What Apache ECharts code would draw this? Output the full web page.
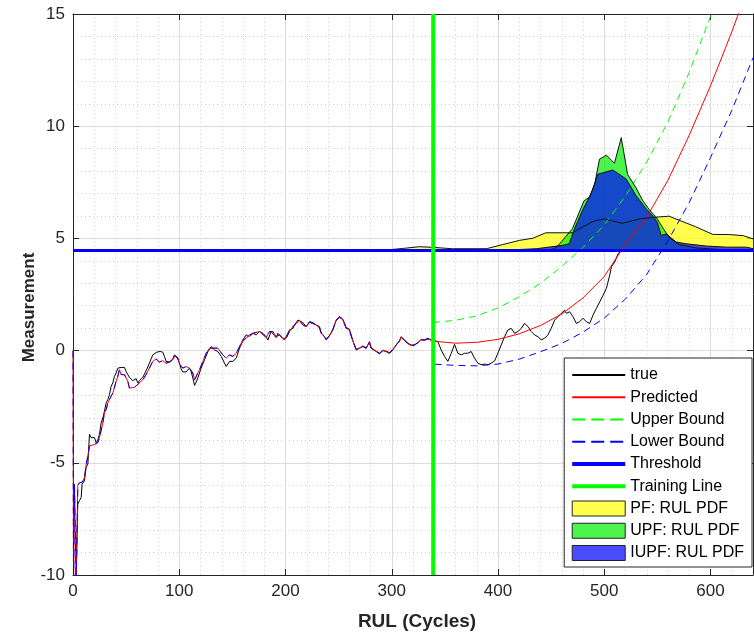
<!DOCTYPE html>
<html>
<head>
<meta charset="utf-8">
<script src="https://cdn.jsdelivr.net/npm/echarts@6/dist/echarts.min.js"></script>
<style>html,body{margin:0;padding:0;background:#fff}#c{width:754px;height:636px}</style>
</head>
<body>
<div id="c"></div>
<script>
// ---- data ----
const xTicks = [0, 100, 200, 300, 400, 500, 600];
const yTicks = [-10, -5, 0, 5, 10, 15];
const thresholdValue = 4.46;
const trainingCycle = 339;

const trueData = [[2.5,-11],[3,-9.9],[4.5,-6.84],[6.1,-6.69],[7.7,-6.54],[8.6,-5.95],[10.8,-5.8],[12.4,-5.2],[14,-5.05],[15.5,-3.73],[17.1,-3.88],[18.7,-3.96],[20.2,-3.88],[21.8,-4.1],[23.4,-3.96],[24.9,-3.73],[26.5,-3.22],[28.1,-3.0],[29.6,-2.7],[31.2,-2.33],[32.8,-2.18],[34.3,-1.96],[35.9,-1.59],[37.5,-1.44],[39,-1.15],[40.6,-1.0],[42.2,-0.78],[43.7,-0.85],[45.3,-0.75],[46.9,-0.71],[48.4,-0.75],[50,-0.93],[51.6,-1.07],[53.1,-1.19],[54.7,-1.25],[56.3,-1.34],[57.8,-1.34],[59.4,-1.25],[61,-1.44],[62.5,-1.34],[64.1,-1.3],[65.7,-1.19],[67.2,-1.05],[68.8,-0.9],[70.4,-0.93],[71.9,-0.56],[73.5,-0.37],[75.1,-0.19],[76.6,-0.12],[78.9,-0.07],[82,-0.04],[84.5,-0.07],[86.1,-0.26],[87.6,-0.48],[89.2,-0.56],[90.8,-0.51],[92.3,-0.48],[93.9,-0.37],[95.5,-0.19],[97,-0.26],[98.6,-0.37],[100.2,-0.55],[101.7,-0.8],[103.3,-0.95],[104.9,-1.0],[106.4,-0.95],[108.1,-1.0],[109.6,-0.78],[111,-0.9],[112.8,-1.22],[114.4,-1.55],[115.5,-1.45],[117.5,-1.22],[120.6,-0.78],[123.8,-0.41],[127,-0.04],[130,0.18],[133.2,0.03],[136.3,-0.04],[139.5,-0.26],[142.6,-0.56],[144.2,-0.71],[147.3,-0.48],[150.4,-0.48],[153.6,-0.34],[156.7,0.11],[159.9,0.43],[163,0.55],[166.1,0.7],[169.3,0.77],[172.4,0.7],[175.5,0.85],[178.7,0.77],[181.8,0.62],[183.4,0.47],[186.5,0.85],[189.6,0.67],[191.2,0.58],[192.8,0.77],[195.9,0.62],[199,0.47],[200.6,0.62],[203.8,0.92],[206.9,0.99],[208.5,1.14],[211.6,1.36],[213.2,1.44],[216.3,1.25],[219.5,1.07],[222.6,1.29],[225.7,1.25],[228.9,1.14],[232,1.07],[233.6,0.77],[236.7,0.62],[238.3,0.48],[241.4,0.66],[244.6,0.92],[246.1,1.14],[247.7,1.36],[250.8,1.52],[254,1.4],[257.1,1.03],[260.2,0.95],[263.4,0.44],[266.5,0.03],[269.6,0.1],[272.8,0.18],[275.9,0.1],[279,0.4],[280.6,0.1],[282.2,0.18],[285.3,-0.04],[288.5,-0.15],[291.6,0.0],[294.7,-0.04],[297.9,-0.12],[301,0.03],[304.1,0.25],[307.3,0.44],[308.8,0.62],[312,0.48],[315.1,0.33],[318.3,0.25],[321.4,0.25],[324.5,0.35],[327.7,0.5],[330.8,0.48],[334,0.55],[337.1,0.48],[340.2,0.45],[343.4,0.4],[346.5,0.03],[349.7,-0.26],[352.8,-0.48],[356,-0.12],[359.1,0.28],[362.2,-0.12],[365.4,-0.19],[368.5,-0.12],[371.6,-0.12],[374.8,-0.04],[377.9,-0.34],[381.1,-0.56],[384.2,-0.63],[387.3,-0.6],[390.5,-0.63],[393.6,-0.56],[396.8,-0.46],[399.9,-0.12],[403,0.25],[406.2,0.62],[409.3,0.92],[412.5,0.99],[415.6,0.77],[418.7,0.85],[421.9,0.99],[425,1.21],[428.2,1.07],[431.3,0.85],[434.4,0.7],[437.6,0.62],[440.7,0.48],[443.9,0.55],[447,0.7],[450.1,0.99],[453.3,1.36],[456.4,1.51],[459.5,1.66],[462.7,1.8],[464.3,1.66],[467.4,1.73],[470.6,1.51],[473.7,1.21],[476.9,1.29],[480,1.44],[483.1,1.29],[486.3,1.21],[489.4,1.58],[492.6,1.88],[495.7,2.17],[498.9,2.47],[502,2.77],[505.1,3.35],[506.7,3.73],[509.9,3.95],[513,4.32],[516.2,4.46]];

const estimateHistory = [[0,0],[0.5,-11],[1.4,-5.95],[3,-10.5],[4.5,-6.0],[6,-5.9],[9,-5.85],[10.8,-5.65],[12.4,-5.07],[14,-4.69],[15.5,-4.25],[17.1,-4.18],[20.2,-4.18],[23.4,-4.1],[24.9,-3.88],[28.1,-3.22],[29.6,-2.77],[31.2,-2.63],[32.8,-2.33],[34.3,-2.18],[37.5,-1.89],[40.6,-1.37],[42.2,-1.15],[43.7,-0.85],[45.3,-1.07],[46.9,-1.15],[48.4,-1.07],[50,-1.15],[51.6,-1.37],[53.1,-1.67],[54.7,-1.67],[57.8,-1.64],[59.4,-1.59],[62.5,-1.44],[65.7,-1.3],[68.8,-1.07],[71.9,-0.78],[75.1,-0.48],[78.2,-0.37],[81.3,-0.51],[84.5,-0.45],[87.6,-0.56],[90.8,-0.51],[93.9,-0.41],[96.4,-0.22],[98.6,-0.33],[100.2,-0.6],[103.4,-0.78],[106.5,-0.71],[109.6,-0.78],[112.8,-1.0],[114.4,-1.3],[115.9,-1.22],[119.1,-0.85],[122.2,-0.48],[125.4,-0.12],[128.5,0.11],[130.1,0.18],[133.2,0.11],[136.3,0.11],[137.9,0.03],[141,-0.19],[144.2,-0.34],[147.3,-0.19],[150.4,-0.26],[153.6,-0.12],[156.7,0.18],[159.9,0.48],[163,0.7],[166.1,0.62],[169.3,0.77],[175.5,0.85],[178.7,0.73],[181.8,0.58],[184.9,0.85],[188.1,0.85],[191.2,0.62],[194.3,0.7],[197.5,0.55],[200.6,0.55],[203.8,0.85],[206.9,1.07],[210,1.21],[213.2,1.36],[216.3,1.14],[219.5,1.07],[222.6,1.26],[225.7,1.21],[228.9,1.14],[232,1.0],[233.6,0.8],[236.7,0.6],[238.3,0.5],[241.4,0.68],[244.6,0.95],[247.7,1.33],[250.8,1.5],[254,1.36],[257.1,1.0],[260.2,0.9],[263.4,0.42],[266.5,0.06],[269.6,0.12],[272.8,0.2],[275.9,0.12],[279,0.36],[280.6,0.12],[285.3,-0.02],[288.5,-0.12],[291.6,0.02],[294.7,-0.02],[297.9,-0.1],[301,0.05],[304.1,0.25],[307.3,0.42],[308.8,0.58],[312,0.46],[315.1,0.3],[318.3,0.22],[321.4,0.25],[324.5,0.35],[327.7,0.48],[330.8,0.46],[334,0.52],[337.1,0.46],[339,0.42]];

const predictedForecast = [[339,0.37],[360,0.33],[380,0.37],[400,0.5],[420,0.75],[440,1.12],[460,1.63],[480,2.35],[500,3.3],[520,4.75],[540,5.95],[560,7.6],[580,9.6],[600,11.8],[620,14.2],[630,15.5]];
const upperForecast = [[339,1.25],[360,1.35],[380,1.55],[400,1.9],[420,2.4],[440,3.0],[460,3.75],[480,4.6],[500,5.6],[520,6.9],[540,8.4],[560,10.2],[580,12.4],[600,14.9],[605,15.5]];
const lowerForecast = [[339,-0.6],[360,-0.66],[380,-0.68],[400,-0.6],[420,-0.38],[440,-0.05],[460,0.32],[480,0.82],[500,1.45],[520,2.3],[540,3.4],[560,4.9],[580,6.6],[600,8.6],[620,10.7],[640,13.05]];

const pfPdf = [[290,4.46],[310,4.55],[326,4.63],[339,4.6],[357,4.54],[389,4.54],[404,4.72],[420,4.91],[433,5.01],[445,5.25],[470,5.25],[489,5.75],[500,5.87],[517,5.67],[533,5.87],[547,5.94],[561,5.99],[571,5.8],[586,5.52],[602,5.18],[618,5.17],[631,5.12],[640,4.98]];
const upfPdf = [[445,4.46],[453,4.54],[458,4.76],[470,5.43],[481,6.68],[486,6.83],[491,7.42],[495.5,8.53],[502,8.71],[509.6,8.35],[516,9.49],[522,7.85],[530,7.25],[536,6.7],[543,6.24],[549,5.94],[556,5.4],[562,5.0],[571,4.72],[586,4.58],[610,4.5],[630,4.46]];
const iupfPdf = [[400,4.46],[436,4.54],[461,4.69],[467,4.76],[472,5.43],[480,6.3],[487.7,7.0],[494,7.86],[508,8.05],[520.6,7.65],[530,6.9],[539.5,6.31],[547,5.94],[550,5.7],[553.6,5.13],[558.3,5.2],[567.7,4.84],[577,4.76],[596,4.66],[615,4.61],[634,4.61],[640,4.54]];

const legendNames = ['true','Predicted','Upper Bound','Lower Bound','Threshold','Training Line','PF: RUL PDF','UPF: RUL PDF','IUPF: RUL PDF'];

// ---- chart ----
const FONT = "'Liberation Sans', Arial, Helvetica, sans-serif";
const AX = '#262626';
const PF_FILL = 'rgba(255,255,0,0.7)';
const UPF_FILL = 'rgba(0,240,0,0.7)';
const IUPF_FILL = 'rgba(0,0,255,0.7)';
const chart = echarts.init(document.getElementById('c'), null, {renderer: 'canvas'});

const xMin = xTicks[0], xMax = 640, xStep = xTicks[1] - xTicks[0];
const yMin = yTicks[0], yMax = yTicks[yTicks.length - 1], yStep = yTicks[1] - yTicks[0];

const baseX = {type: 'value', min: xMin, max: xMax, interval: xStep};
const baseY = {type: 'value', min: yMin, max: yMax, interval: yStep};

const hiddenSymbol = {color: 'rgba(0,0,0,0)', opacity: 0, borderWidth: 0};

const option = {
  animation: false,
  backgroundColor: '#fff',
  textStyle: {fontFamily: FONT},
  grid: {left: 73, right: 1, top: 14, bottom: 58, containLabel: false},
  xAxis: [
    Object.assign({}, baseX, {
      position: 'bottom',
      name: 'RUL (Cycles)', nameLocation: 'middle', nameGap: 37, nameMoveOverlap: false,
      nameTextStyle: {fontSize: 19, fontWeight: 'bold', color: AX, fontFamily: FONT, padding: [0, 0, 0, 8]},
      axisLine: {show: true, onZero: false, lineStyle: {color: AX, width: 1}},
      axisTick: {show: true, inside: true, length: 6, lineStyle: {color: AX}},
      axisLabel: {fontSize: 17, color: AX, margin: 8, fontFamily: FONT, showMaxLabel: false},
      splitLine: {show: true, lineStyle: {color: '#dcdcdc', width: 1}},
      minorTick: {show: false, splitNumber: 5},
      minorSplitLine: {show: true, lineStyle: {color: '#cfcfcf', width: 1, type: [1, 3]}}
    }),
    Object.assign({}, baseX, {
      position: 'top',
      axisLine: {show: true, onZero: false, lineStyle: {color: AX, width: 1}},
      axisTick: {show: true, inside: true, length: 6, lineStyle: {color: AX}},
      axisLabel: {show: false},
      splitLine: {show: false}
    })
  ],
  yAxis: [
    Object.assign({}, baseY, {
      position: 'left',
      name: 'Measurement', nameLocation: 'middle', nameGap: 35, nameRotate: 90, nameMoveOverlap: false,
      nameTextStyle: {fontSize: 17, fontWeight: 'bold', color: AX, fontFamily: FONT, padding: [0, 26, 0, 0]},
      axisLine: {show: true, onZero: false, lineStyle: {color: AX, width: 1}},
      axisTick: {show: true, inside: true, length: 6, lineStyle: {color: AX}},
      axisLabel: {fontSize: 17, color: AX, margin: 8, fontFamily: FONT},
      splitLine: {show: true, lineStyle: {color: '#dcdcdc', width: 1}},
      minorTick: {show: false, splitNumber: 5},
      minorSplitLine: {show: true, lineStyle: {color: '#cfcfcf', width: 1, type: [1, 3]}}
    }),
    Object.assign({}, baseY, {
      position: 'right',
      axisLine: {show: true, onZero: false, lineStyle: {color: AX, width: 1}},
      axisTick: {show: true, inside: true, length: 6, lineStyle: {color: AX}},
      axisLabel: {show: false},
      splitLine: {show: false}
    })
  ],
  legend: {
    orient: 'vertical', right: 2, top: 358,
    padding: [9, 8, 6, 6], itemGap: 6.25, itemWidth: 53, itemHeight: 15,
    backgroundColor: '#fff', borderColor: AX, borderWidth: 1, borderRadius: 0,
    selectedMode: false,
    textStyle: {fontSize: 16, color: '#000', fontFamily: FONT},
    data: [
      {name: legendNames[0], itemStyle: hiddenSymbol},
      {name: legendNames[1], itemStyle: hiddenSymbol},
      {name: legendNames[2], itemStyle: hiddenSymbol, lineStyle: {type: [13, 6]}},
      {name: legendNames[3], itemStyle: hiddenSymbol, lineStyle: {type: [13, 6]}},
      {name: legendNames[4], itemStyle: hiddenSymbol, lineStyle: {width: 4}},
      {name: legendNames[5], itemStyle: hiddenSymbol, lineStyle: {width: 4}},
      {name: legendNames[6], icon: 'rect', itemStyle: {color: PF_FILL, borderColor: '#222', borderWidth: 1, opacity: 1}},
      {name: legendNames[7], icon: 'rect', itemStyle: {color: UPF_FILL, borderColor: '#222', borderWidth: 1, opacity: 1}},
      {name: legendNames[8], icon: 'rect', itemStyle: {color: IUPF_FILL, borderColor: '#222', borderWidth: 1, opacity: 1}}
    ]
  },
  series: [
    {name: legendNames[0], type: 'line', data: trueData, symbol: 'none', clip: true,
     lineStyle: {color: '#000', width: 1}, itemStyle: {color: '#000'}},
    {name: legendNames[1], type: 'line', data: estimateHistory.concat(predictedForecast), symbol: 'none', clip: true,
     lineStyle: {color: '#ff0000', width: 1}, itemStyle: {color: '#ff0000'}},
    {name: legendNames[2], type: 'line', data: upperForecast, symbol: 'none', clip: true,
     lineStyle: {color: '#00ff00', width: 1, type: [7, 5]}, itemStyle: {color: '#00ff00'}},
    {name: legendNames[3], type: 'line', data: estimateHistory.concat(lowerForecast), symbol: 'none', clip: true,
     lineStyle: {color: '#0000ff', width: 1, type: [7, 5]}, itemStyle: {color: '#0000ff'}},
    {name: legendNames[6], type: 'line', data: pfPdf, symbol: 'none', clip: true,
     lineStyle: {color: '#111', width: 1}, itemStyle: {color: PF_FILL},
     areaStyle: {color: PF_FILL, opacity: 1, origin: thresholdValue}},
    {name: legendNames[7], type: 'line', data: upfPdf, symbol: 'none', clip: true,
     lineStyle: {color: '#111', width: 1}, itemStyle: {color: UPF_FILL},
     areaStyle: {color: UPF_FILL, opacity: 1, origin: thresholdValue}},
    {name: legendNames[8], type: 'line', data: iupfPdf, symbol: 'none', clip: true,
     lineStyle: {color: '#111', width: 1}, itemStyle: {color: IUPF_FILL},
     areaStyle: {color: IUPF_FILL, opacity: 1, origin: thresholdValue}},
    {name: legendNames[4], type: 'line', data: [[xMin, thresholdValue], [xMax, thresholdValue]], symbol: 'none', clip: true,
     lineStyle: {color: '#0000ff', width: 3}, itemStyle: {color: '#0000ff'}},
    {name: legendNames[5], type: 'line', data: [[trainingCycle, yMin], [trainingCycle, yMax]], symbol: 'none', clip: true,
     lineStyle: {color: '#00ff00', width: 4}, itemStyle: {color: '#00ff00'}}
  ]
};
chart.setOption(option);
</script>
</body>
</html>
